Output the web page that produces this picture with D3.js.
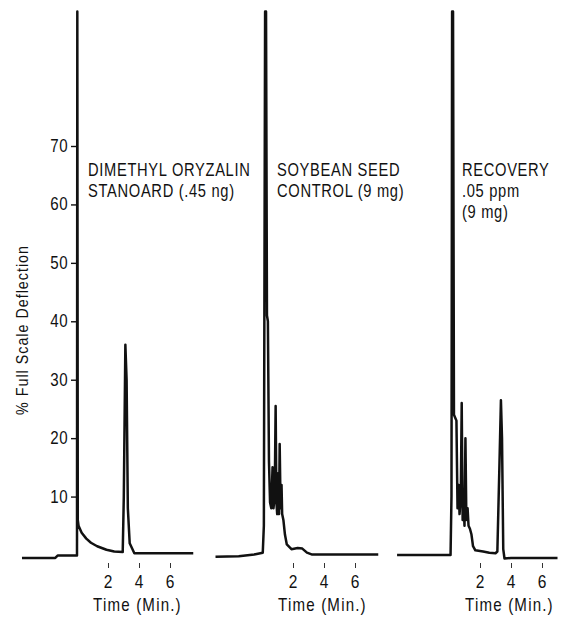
<!DOCTYPE html>
<html>
<head>
<meta charset="utf-8">
<script src="https://cdn.jsdelivr.net/npm/d3@7"></script>
<style>
  html, body { margin: 0; padding: 0; background: #fff; }
  svg { display: block; }
  text { font-family: "Liberation Sans", Arial, sans-serif; fill: #111; }
</style>
</head>
<body>
<svg id="chart" width="569" height="622"></svg>
<script>
// ---- data (time in minutes, response in % full scale) ----
const standardTime  = [-3.55, -1.4, -1.25, 0, 0.02, 0.05, 0.1, 0.3, 0.6, 0.9, 1.3, 1.9, 2.4, 2.95, 3.02, 3.12, 3.2, 3.28, 3.4, 3.7, 7.5];
const standardValue = [-0.5, -0.5, -0.1, -0.1, 93, 6, 5, 3.8, 2.8, 2.1, 1.5, 0.9, 0.6, 0.5, 10, 36, 30, 8, 2, 0.3, 0.3];

const controlTime  = [-3.0, -1.5, -0.5, 0.05, 0.12, 0.2, 0.26, 0.32, 0.38, 0.45, 0.52, 0.6, 0.68, 0.74, 0.82, 0.88, 0.93, 0.98, 1.04, 1.1, 1.14, 1.2, 1.26, 1.3, 1.38, 1.48, 1.6, 1.9, 2.3, 2.6, 2.9, 3.2, 7.5];
const controlValue = [-0.3, -0.2, 0.1, 0.4, 5, 93, 93, 41, 40, 16, 9, 8, 15, 8, 10, 25.5, 9, 7, 14, 7, 19, 8, 12, 7, 6, 3.5, 1.8, 1.0, 1.2, 1.1, 0.4, 0.1, 0.1];

const recoveryTime  = [-3.35, 0.1, 0.16, 0.2, 0.26, 0.32, 0.4, 0.48, 0.55, 0.62, 0.68, 0.76, 0.82, 0.88, 0.94, 1.0, 1.06, 1.12, 1.2, 1.26, 1.35, 1.45, 1.55, 1.7, 2.2, 2.6, 3.0, 3.12, 3.25, 3.35, 3.42, 3.5, 3.58, 4.0, 7.0];
const recoveryValue = [0, 0, 10, 93, 93, 24, 23.5, 23, 8, 12, 7, 10, 26, 6, 9, 5, 20, 6, 8, 5, 4.5, 3.5, 1.5, 0.8, 0.6, 0.4, 0.3, 0.6, 15, 26.5, 20, 1, -0.6, -0.5, -0.5];

const yTicks = [10, 20, 30, 40, 50, 60, 70];
const xTicks = [2, 4, 6];

const labelStandard = ["DIMETHYL ORYZALIN", "STANOARD (.45 ng)"];
const labelControl  = ["SOYBEAN SEED", "CONTROL (9 mg)"];
const labelRecovery = ["RECOVERY", ".05 ppm", "(9 mg)"];

const yTitle = "% Full Scale Deflection";
const xTitle = "Time (Min.)";

// ---- layout ----
const svg = d3.select("#chart");
const y = d3.scaleLinear().domain([0, 70]).range([555, 146]);
const SX = 0.84; // condensed type

function ctext(x, yy, str, opts = {}) {
  const rot = opts.rotate ? ` rotate(${opts.rotate})` : "";
  return svg.append("text")
    .attr("transform", `translate(${x},${yy})${rot} scale(${SX},1)`)
    .attr("text-anchor", opts.anchor || "start")
    .attr("font-size", opts.size || 17)
    .attr("letter-spacing", opts.ls == null ? 0.9 : opts.ls)
    .text(str);
}

const panels = [
  { time: standardTime, value: standardValue, labels: labelStandard, x0: 77, lx: 88 },
  { time: controlTime,  value: controlValue,  labels: labelControl,  x0: 262, lx: 277 },
  { time: recoveryTime, value: recoveryValue, labels: labelRecovery, x0: 449, lx: 462 }
];
const pxPerMin = 15.5;

panels.forEach((p, i) => {
  const x = d3.scaleLinear().domain([0, 1]).range([p.x0, p.x0 + pxPerMin]);
  const pts = p.time.map((t, j) => [t, p.value[j]]);
  const line = d3.line().x(d => x(d[0])).y(d => y(d[1]));

  if (i === 0) {
    const ya = d3.axisLeft(y).tickValues(yTicks).tickSize(6).tickPadding(3).tickFormat(() => "");
    const ga = svg.append("g").attr("transform", `translate(${x(0)},0)`).call(ya);
    ga.select(".domain").remove();
    ga.selectAll(".tick line").attr("stroke", "#111").attr("stroke-width", 1.4);
    yTicks.forEach(v => ctext(x(0) - 9, y(v) + 6, String(v), { anchor: "end", size: 18, ls: 0.5 }));
  }

  svg.append("path")
    .datum(pts)
    .attr("d", line)
    .attr("fill", "none")
    .attr("stroke", "#111")
    .attr("stroke-width", 2.5)
    .attr("stroke-linejoin", "round");

  // x axis ticks
  const xa = d3.axisBottom(x).tickValues(xTicks).tickSize(5).tickFormat(() => "");
  const g = svg.append("g").attr("transform", "translate(0,563)").call(xa);
  g.select(".domain").remove();
  g.selectAll(".tick line").attr("stroke", "#333").attr("stroke-width", 1);
  xTicks.forEach(v => ctext(x(v), 588, String(v), { anchor: "middle", size: 18.5, ls: 0 }));

  ctext(x(3.9), 611, xTitle, { anchor: "middle", size: 18, ls: 1.4 });

  // annotation
  p.labels.forEach((s, k) => ctext(p.lx, 176 + k * 21, s, { size: 17.5, ls: 0.8 }));
});

ctext(28, 330, yTitle, { rotate: -90, anchor: "middle", size: 17, ls: 1.2 });
</script>
</body>
</html>
